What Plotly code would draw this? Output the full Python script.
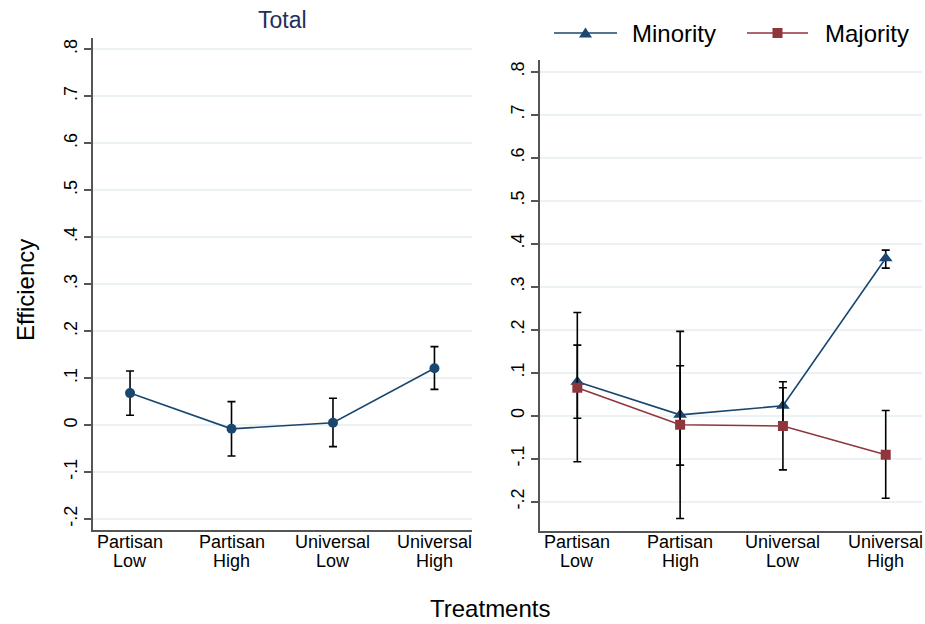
import plotly.graph_objects as go

categories = ["Partisan<br>Low", "Partisan<br>High", "Universal<br>Low", "Universal<br>High"]
xpos = [1, 2, 3, 4]

total_mean = [0.068, -0.008, 0.005, 0.121]
total_lo = [0.021, -0.066, -0.046, 0.076]
total_hi = [0.115, 0.050, 0.057, 0.167]

minority_mean = [0.079, 0.002, 0.023, 0.366]
minority_lo = [-0.006, -0.115, -0.018, 0.343]
minority_hi = [0.164, 0.116, 0.065, 0.385]

majority_mean = [0.065, -0.021, -0.024, -0.091]
majority_lo = [-0.107, -0.239, -0.126, -0.192]
majority_hi = [0.240, 0.196, 0.079, 0.012]

ytick_vals = [-0.2, -0.1, 0, 0.1, 0.2, 0.3, 0.4, 0.5, 0.6, 0.7, 0.8]
ytick_text = ["-.2", "-.1", "0", ".1", ".2", ".3", ".4", ".5", ".6", ".7", ".8"]

NAVY = "#1a476f"
MAROON = "#90353b"
GRID = "#eaf2f3"
AXIS = "#555555"
FONT = "Liberation Sans, Arial, Helvetica, sans-serif"
W, H = 925, 624


def px(x):
    return x / W


def py(y):
    return 1 - y / H


def err(mean, lo, hi):
    return dict(type="data", symmetric=False,
                array=[h - m for m, h in zip(mean, hi)],
                arrayminus=[m - l for m, l in zip(mean, lo)],
                color="black", thickness=1.6, width=4)


fig = go.Figure()

fig.add_trace(go.Scatter(
    x=xpos, y=total_mean, mode="lines+markers", xaxis="x", yaxis="y",
    line=dict(color=NAVY, width=1.6),
    marker=dict(symbol="circle", size=10, color=NAVY),
    error_y=err(total_mean, total_lo, total_hi), showlegend=False))

fig.add_trace(go.Scatter(
    x=xpos, y=minority_mean, mode="lines+markers", xaxis="x2", yaxis="y2",
    name="Minority",
    line=dict(color=NAVY, width=1.6),
    marker=dict(symbol="triangle-up", size=12, color=NAVY),
    error_y=err(minority_mean, minority_lo, minority_hi), showlegend=False))

fig.add_trace(go.Scatter(
    x=xpos, y=majority_mean, mode="lines+markers", xaxis="x2", yaxis="y2",
    name="Majority",
    line=dict(color=MAROON, width=1.6),
    marker=dict(symbol="square", size=10, color=MAROON),
    error_y=err(majority_mean, majority_lo, majority_hi), showlegend=False))

xax_common = dict(tickvals=xpos, showticklabels=False, showgrid=False, zeroline=False,
                  showline=True, linecolor=AXIS, linewidth=1.5, ticks="")
yax_common = dict(tickvals=ytick_vals, ticktext=ytick_text, tickangle=-90,
                  showgrid=True, gridcolor=GRID, gridwidth=1.5, zeroline=False,
                  showline=True, linecolor=AXIS, linewidth=1.5,
                  ticks="outside", ticklen=7, tickcolor=AXIS, tickwidth=1.5,
                  tickfont=dict(family=FONT, size=18, color="black"))

annotations = [
    dict(text="Total", x=px((93 + 472) / 2), y=py(20), xref="paper", yref="paper",
         showarrow=False, font=dict(family=FONT, size=23, color="#1e2f5a"),
         xanchor="center", yanchor="middle"),
    dict(text="Efficiency", x=px(25), y=py(290), xref="paper", yref="paper",
         showarrow=False, textangle=-90, font=dict(family=FONT, size=24, color="black"),
         xanchor="center", yanchor="middle"),
    dict(text="Treatments", x=px(490), y=py(608), xref="paper", yref="paper",
         showarrow=False, font=dict(family=FONT, size=24, color="black"),
         xanchor="center", yanchor="middle"),
]

# category labels (two lines each) under both panels
for xr in ["x", "x2"]:
    for xv, lab in zip(xpos, categories):
        for k, part in enumerate(lab.split("<br>")):
            annotations.append(dict(
                text=part, x=xv, y=py(542 + 19 * k), xref=xr, yref="paper",
                showarrow=False, font=dict(family=FONT, size=18, color="black"),
                xanchor="center", yanchor="middle"))

# legend drawn manually
legend_items = [("Minority", NAVY, "triangle", 554, 617, 630),
                ("Majority", MAROON, "square", 747, 808, 823)]
shapes = []
ly = 33
for name, col, sym, x0, x1, tx in legend_items:
    shapes.append(dict(type="line", xref="paper", yref="paper",
                       x0=px(x0), x1=px(x1), y0=py(ly), y1=py(ly),
                       line=dict(color=col, width=1.6)))
    cx = (x0 + x1) / 2
    if sym == "triangle":
        path = (f"M {px(cx)},{py(ly - 5.5)} L {px(cx + 6.5)},{py(ly + 4.5)} "
                f"L {px(cx - 6.5)},{py(ly + 4.5)} Z")
        shapes.append(dict(type="path", xref="paper", yref="paper", path=path,
                           fillcolor=col, line=dict(color=col, width=0)))
    else:
        shapes.append(dict(type="rect", xref="paper", yref="paper",
                           x0=px(cx - 5), x1=px(cx + 5), y0=py(ly + 5), y1=py(ly - 5),
                           fillcolor=col, line=dict(color=col, width=0)))
    annotations.append(dict(text=name, x=px(tx), y=py(ly), xref="paper", yref="paper",
                            showarrow=False, font=dict(family=FONT, size=24, color="black"),
                            xanchor="left", yanchor="middle"))

fig.update_layout(
    width=W, height=H,
    margin=dict(l=0, r=0, t=0, b=0),
    paper_bgcolor="white", plot_bgcolor="white",
    font=dict(family=FONT, color="black"),
    showlegend=False,
    xaxis=dict(domain=[px(93), px(472)], range=[0.635, 4.37], anchor="y", **xax_common),
    yaxis=dict(domain=[py(530), py(38.3)], range=[-0.2234, 0.8234], anchor="x", **yax_common),
    xaxis2=dict(domain=[px(540), px(921.7)], range=[0.637, 4.35], anchor="y2", **xax_common),
    yaxis2=dict(domain=[py(530.7), py(60)], range=[-0.2674, 0.827], anchor="x2", **yax_common),
    annotations=annotations,
    shapes=shapes,
)

fig.write_html("out.html")
